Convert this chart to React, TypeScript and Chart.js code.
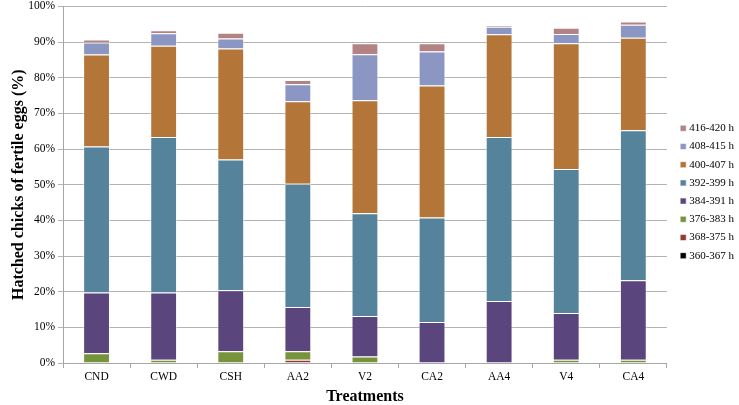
import React, { useEffect, useRef } from "react";
import { Chart, registerables } from "chart.js";

Chart.register(...registerables);

const categories = ["CND", "CWD", "CSH", "AA2", "V2", "CA2", "AA4", "V4", "CA4"];
const seriesLabels = ["360-367 h", "368-375 h", "376-383 h", "384-391 h", "392-399 h", "400-407 h", "408-415 h", "416-420 h"];
const h360 = [0, 0, 0, 0, 0, 0, 0, 0, 0];
const h368 = [0, 0, 0, 0.9, 0, 0, 0, 0, 0];
const h376 = [2.7, 0.9, 3.3, 2.4, 1.8, 0, 0, 0.9, 0.9];
const h384 = [17.1, 18.9, 17.1, 12.4, 11.4, 11.5, 17.4, 13.1, 22.3];
const h392 = [40.9, 43.6, 36.7, 34.6, 28.8, 29.3, 46.0, 40.4, 42.1];
const h400 = [25.8, 25.6, 31.1, 23.1, 31.7, 37.0, 28.8, 35.3, 25.9];
const h408 = [3.4, 3.5, 2.8, 4.8, 12.9, 9.6, 2.1, 2.6, 3.7];
const h416 = [0.8, 0.8, 1.6, 1.2, 3.1, 2.3, 0.5, 1.7, 0.9];
const yTicks = [0, 10, 20, 30, 40, 50, 60, 70, 80, 90, 100];

const seriesValues = [h360, h368, h376, h384, h392, h400, h408, h416];
const seriesColors = ["#000000", "#953735", "#77933C", "#5B457D", "#56839C", "#B37538", "#8B96C3", "#B38282"];

const legendPlace = {
  id: "legendPlace",
  afterLayout(chart: any) {
    const lg = chart.legend;
    if (!lg) return;
    lg.left = 675.5;
    lg.top = 0;
    lg.bottom = 384;
  },
};

export default function App() {
  const ref = useRef<HTMLCanvasElement | null>(null);
  useEffect(() => {
    if (!ref.current) return;
    const serif = "'Liberation Serif', serif";
    const chart = new Chart(ref.current, {
      type: "bar",
      data: {
        labels: categories,
        datasets: seriesLabels.map((label, i) => ({
          label,
          data: seriesValues[i],
          backgroundColor: seriesColors[i],
          borderColor: "rgba(255,255,255,0.55)",
          borderWidth: 1,
          barPercentage: 0.4,
          categoryPercentage: 1,
          pointStyle: "rect",
        })),
      },
      plugins: [legendPlace],
      options: {
        animation: false,
        responsive: false,
        maintainAspectRatio: false,
        layout: { padding: { top: 0, right: 3.5, left: 0, bottom: 0 } },
        plugins: {
          legend: {
            position: "right",
            reverse: true,
            labels: {
              usePointStyle: true,
              pointStyle: "rect",
              boxWidth: 1,
              boxHeight: 6,
              padding: 7.2,
              color: "#000",
              font: { family: serif, size: 11 },
            },
          },
          tooltip: { enabled: false },
        },
        scales: {
          x: {
            stacked: true,
            grid: { offset: true, drawOnChartArea: false, drawTicks: true, tickLength: 5, color: "#a6a6a6" },
            border: { color: "#a6a6a6" },
            ticks: { color: "#000", font: { family: serif, size: 11.5 }, padding: 2 },
            title: { display: true, text: "Treatments", color: "#000", font: { family: serif, size: 16, weight: "bold", lineHeight: 1 }, padding: { top: 0, bottom: 0 } },
            afterFit: (s: any) => { s.height = 42; },
          },
          y: {
            stacked: true,
            min: 0,
            max: 100,
            afterBuildTicks: (s: any) => { s.ticks = yTicks.map((v) => ({ value: v })); },
            grid: { color: "#b3b3b3", tickLength: 5 },
            border: { color: "#a6a6a6" },
            ticks: { color: "#000", font: { family: serif, size: 11.5, lineHeight: 0.6 }, padding: 3, callback: (v: any) => v + "%" },
            title: { display: true, text: "Hatched chicks of fertile eggs (%)", color: "#000", font: { family: serif, size: 16, weight: "bold", lineHeight: 1 }, padding: { top: 11, bottom: 0 } },
            afterFit: (s: any) => { s.width = 63; },
          },
        },
      },
    });
    return () => chart.destroy();
  }, []);
  return (
    <div style={{ position: "fixed", left: 0, top: 0, width: 739, height: 405, background: "#fff" }}>
      <canvas ref={ref} width={739} height={405} style={{ width: 739, height: 405 }} />
    </div>
  );
}
